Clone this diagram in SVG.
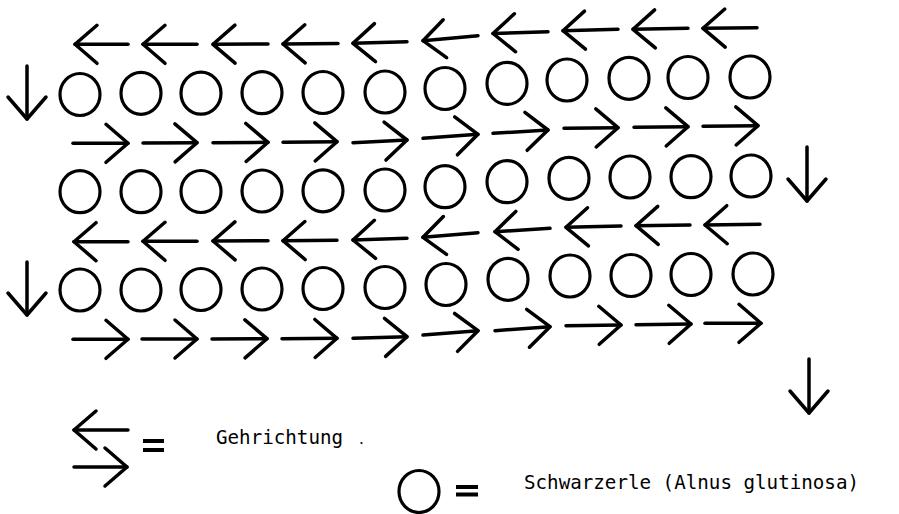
<svg xmlns="http://www.w3.org/2000/svg" width="899" height="514" viewBox="0 0 899 514">
<style>
.t{fill:none;stroke:#000;stroke-width:3.2}
.a{fill:none;stroke:#000;stroke-width:3.5;stroke-linecap:round;marker-end:url(#h)}
.eq{stroke:#000;stroke-width:4;stroke-linecap:butt}
.lbl{font-family:"DejaVu Sans Mono","Liberation Mono",monospace;font-size:19.2px;fill:#000}
</style>
<defs>
<marker id="h" viewBox="-25 -22 28 44" refX="0" refY="0" markerWidth="28" markerHeight="44" markerUnits="userSpaceOnUse" orient="auto" overflow="visible">
<path d="M-22,-19 L0,0 L-22,19" fill="none" stroke="#000" stroke-width="3.5" stroke-linecap="round" stroke-linejoin="round"/>
</marker>
<ellipse id="c" cx="0" cy="0" rx="20" ry="21"/>
</defs>
<rect width="899" height="514" fill="#fff"/>

<g id="trees-row1" class="t">
<g id="r1c1"><use href="#c" x="80" y="94.5"/></g>
<g id="r1c2"><use href="#c" x="141" y="93.3"/></g>
<g id="r1c3"><use href="#c" x="201" y="93.2"/></g>
<g id="r1c4"><use href="#c" x="262" y="92.7"/></g>
<g id="r1c5"><use href="#c" x="323" y="92.5"/></g>
<g id="r1c6"><use href="#c" x="385" y="92"/></g>
<g id="r1c7"><use href="#c" x="445" y="88.5"/></g>
<g id="r1c8"><use href="#c" x="507" y="83.4"/></g>
<g id="r1c9"><use href="#c" x="567" y="80"/></g>
<g id="r1c10"><use href="#c" x="629" y="78.3"/></g>
<g id="r1c11"><use href="#c" x="688" y="77.5"/></g>
<g id="r1c12"><use href="#c" x="750" y="77"/></g>
</g>
<g id="trees-row2" class="t">
<g id="r2c1"><use href="#c" x="80" y="191.7"/></g>
<g id="r2c2"><use href="#c" x="141" y="191.7"/></g>
<g id="r2c3"><use href="#c" x="201" y="191.5"/></g>
<g id="r2c4"><use href="#c" x="262" y="191"/></g>
<g id="r2c5"><use href="#c" x="323" y="190.8"/></g>
<g id="r2c6"><use href="#c" x="385" y="190"/></g>
<g id="r2c7"><use href="#c" x="445" y="186.7"/></g>
<g id="r2c8"><use href="#c" x="507" y="181.7"/></g>
<g id="r2c9"><use href="#c" x="569" y="178.3"/></g>
<g id="r2c10"><use href="#c" x="630" y="177"/></g>
<g id="r2c11"><use href="#c" x="691" y="176.7"/></g>
<g id="r2c12"><use href="#c" x="751" y="176"/></g>
</g>
<g id="trees-row3" class="t">
<g id="r3c1"><use href="#c" x="80" y="290"/></g>
<g id="r3c2"><use href="#c" x="141" y="290"/></g>
<g id="r3c3"><use href="#c" x="201" y="289.5"/></g>
<g id="r3c4"><use href="#c" x="262" y="289"/></g>
<g id="r3c5"><use href="#c" x="323" y="288.5"/></g>
<g id="r3c6"><use href="#c" x="385" y="287.5"/></g>
<g id="r3c7"><use href="#c" x="446" y="284.5"/></g>
<g id="r3c8"><use href="#c" x="508" y="279.3"/></g>
<g id="r3c9"><use href="#c" x="570" y="276"/></g>
<g id="r3c10"><use href="#c" x="631" y="275.5"/></g>
<g id="r3c11"><use href="#c" x="691" y="274.5"/></g>
<g id="r3c12"><use href="#c" x="753" y="274"/></g>
</g>

<g id="connectors">
<g id="rowA">
<line class="a" x1="128" y1="44.3" x2="75" y2="44.3"/>
<line class="a" x1="197" y1="44.3" x2="143" y2="44.3"/>
<line class="a" x1="268" y1="44" x2="213" y2="44.3"/>
<line class="a" x1="338" y1="43.5" x2="283" y2="44"/>
<line class="a" x1="407" y1="41.7" x2="353" y2="43.3"/>
<line class="a" x1="478" y1="35.7" x2="423" y2="40.7"/>
<line class="a" x1="548" y1="31.7" x2="493" y2="33.5"/>
<line class="a" x1="618" y1="29.3" x2="563" y2="30.7"/>
<line class="a" x1="688" y1="28.3" x2="633" y2="29.3"/>
<line class="a" x1="757" y1="27.7" x2="703" y2="28.3"/>
</g>
<g id="rowB">
<line class="a" x1="73" y1="143.3" x2="128" y2="143.3"/>
<line class="a" x1="143" y1="143" x2="197" y2="142.7"/>
<line class="a" x1="213" y1="142.7" x2="268" y2="142.3"/>
<line class="a" x1="283" y1="142.3" x2="337" y2="141.7"/>
<line class="a" x1="353" y1="142.7" x2="407" y2="140"/>
<line class="a" x1="423" y1="138.3" x2="478" y2="134.3"/>
<line class="a" x1="493" y1="133.3" x2="548" y2="130"/>
<line class="a" x1="564" y1="128.3" x2="618" y2="127.7"/>
<line class="a" x1="634" y1="127.3" x2="688" y2="126.7"/>
<line class="a" x1="703" y1="126.3" x2="758" y2="125.7"/>
</g>
<g id="rowC">
<line class="a" x1="128" y1="241.7" x2="74" y2="241.7"/>
<line class="a" x1="197" y1="241.3" x2="143" y2="241.3"/>
<line class="a" x1="268" y1="240.7" x2="213" y2="241"/>
<line class="a" x1="337" y1="240.3" x2="283" y2="240.7"/>
<line class="a" x1="407" y1="238.3" x2="353" y2="240"/>
<line class="a" x1="478" y1="232.7" x2="423" y2="237.3"/>
<line class="a" x1="550" y1="228.3" x2="495" y2="231.7"/>
<line class="a" x1="621" y1="226" x2="566" y2="227.3"/>
<line class="a" x1="690" y1="225" x2="636" y2="225.7"/>
<line class="a" x1="760" y1="224.3" x2="705" y2="225"/>
</g>
<g id="rowD">
<line class="a" x1="73" y1="339.3" x2="128" y2="339.3"/>
<line class="a" x1="142" y1="339" x2="197" y2="339"/>
<line class="a" x1="212" y1="339" x2="267" y2="338.7"/>
<line class="a" x1="282" y1="338.7" x2="337" y2="338.3"/>
<line class="a" x1="353" y1="338.3" x2="407" y2="336.7"/>
<line class="a" x1="423" y1="335" x2="478" y2="330.7"/>
<line class="a" x1="495" y1="330.7" x2="550" y2="326.7"/>
<line class="a" x1="566" y1="325.7" x2="621" y2="325"/>
<line class="a" x1="636" y1="324.7" x2="691" y2="324"/>
<line class="a" x1="705" y1="323.3" x2="761" y2="323.3"/>
</g>
<g id="turns">
<line class="a" x1="27" y1="66" x2="27" y2="119"/>
<line class="a" x1="807" y1="147" x2="807" y2="201"/>
<line class="a" x1="27" y1="262" x2="27" y2="315"/>
<line class="a" x1="809" y1="359" x2="809" y2="413"/>
</g>
</g>

<g id="legend-direction">
<line class="a" x1="128" y1="430" x2="74" y2="430"/>
<line class="a" x1="74" y1="467" x2="127" y2="467"/>
<line class="eq" x1="143" y1="441" x2="164" y2="441"/>
<line class="eq" x1="143" y1="450" x2="164" y2="450"/>
<text class="lbl" x="216" y="444">Gehrichtung</text>
<circle cx="361.5" cy="443" r="1.1" fill="#000"/>
</g>
<g id="legend-tree">
<ellipse class="t" cx="419" cy="491.5" rx="20" ry="21"/>
<line class="eq" x1="456" y1="487" x2="478" y2="487"/>
<line class="eq" x1="456" y1="494.5" x2="478" y2="494.5"/>
<text class="lbl" x="524" y="488.5">Schwarzerle (Alnus glutinosa)</text>
</g>
</svg>
